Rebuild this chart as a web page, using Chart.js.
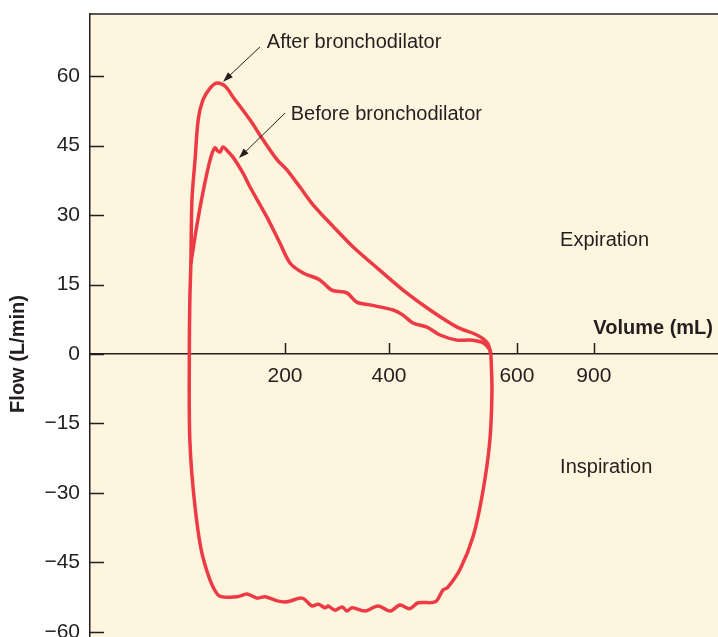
<!DOCTYPE html>
<html>
<head>
<meta charset="utf-8">
<script src="https://cdn.jsdelivr.net/npm/chart.js@4.4.1/dist/chart.umd.min.js"></script>
<style>
    html, body { margin: 0; padding: 0; background: #ffffff; overflow: hidden; }
    #myChart { display: block; }
</style>
</head>
<body>
<canvas id="myChart" width="718" height="694"></canvas>
<script>
// Flow-volume loop, after bronchodilator (volume in mL, flow in L/min)
var afterVolume = [596, 598, 594, 581, 562, 537, 512, 504, 489, 456, 440, 421, 402, 379, 354, 329, 319, 310, 296, 283,
    277, 264, 252, 233, 204, 185, 162, 146, 127, 108, 71, 42, 27, 17, 16, 17, 19, 21, 27, 33,
    42, 56, 69, 85, 100, 133, 158, 185, 204, 229, 254, 292, 331, 377, 427, 479, 531, 569, 589, 596];
var afterFlow = [0, -7.8, -18.6, -29.4, -39.3, -46.4, -50.5, -50.9, -53.5, -53.7, -55.0, -54.2, -55.5, -54.4, -55.5, -54.8, -55.5, -54.6, -55.3, -54.4,
    -54.8, -54.0, -54.4, -52.7, -53.5, -53.3, -52.4, -52.7, -51.8, -52.4, -52.0, -43.8, -33.0, -18.6, 0, 11.7, 19.6, 33.2, 41.9, 50.5,
    54.8, 57.4, 58.5, 57.8, 55.5, 50.5, 46.2, 41.9, 39.7, 36.0, 32.2, 27.6, 23.1, 18.6, 13.8, 9.5, 5.8, 4.1, 2.4, 0];

// Expiration limb before bronchodilator
var beforeVolume = [19, 30, 42, 56, 65, 71, 75, 81, 88, 100, 119, 133, 165, 190, 210, 235, 267, 290, 319, 338,
    363, 408, 427, 446, 473, 498, 531, 556, 581, 594, 596];
var beforeFlow = [19.6, 27.4, 34.8, 41.9, 44.5, 43.8, 43.6, 44.7, 44.0, 42.5, 39.1, 36.0, 29.6, 24.0, 19.6, 17.5, 16.0, 13.8, 13.2, 11.2,
    10.6, 9.5, 8.4, 6.7, 5.8, 4.1, 3.0, 3.0, 2.4, 0.9, 0];

// Axis ticks (the printed volume axis is not evenly spaced)
var xTickValues = [200, 400, 646, 794];
var xTickLabels = ['200', '400', '600', '900'];
var yTickValues = [60, 45, 30, 15, 0, -15, -30, -45, -60];

var inkColor = '#231f20';
var curveColor = '#ee3a45';
var fontFamily = '"Liberation Sans", Arial, sans-serif';

// Text labels and arrows, placed in data units
var notes = [
    { text: 'After bronchodilator', x: 165, y: 67.3, align: 'left', bold: false },
    { text: 'Before bronchodilator', x: 211, y: 51.8, align: 'left', bold: false },
    { text: 'Expiration', x: 729, y: 24.6, align: 'left', bold: false },
    { text: 'Inspiration', x: 729, y: -24.4, align: 'left', bold: false },
    { text: 'Volume (mL)', x: 1023, y: 5.6, align: 'right', bold: true }
];
var arrows = [
    { x1: 152, y1: 66.3, x2: 81, y2: 58.8 },
    { x1: 200, y1: 52.0, x2: 111.5, y2: 42.3 }
];

function toPoints(xs, ys) {
    return xs.map((x, i) => ({ x: x, y: ys[i] }));
}

// Cream plot background and the top frame line
const backgroundPlugin = {
    id: 'plotBackground',
    beforeDraw(chart) {
        const ctx = chart.ctx;
        const a = chart.chartArea;
        ctx.save();
        ctx.fillStyle = '#fdf5de';
        ctx.fillRect(a.left, a.top, a.right - a.left, a.bottom - a.top);
        ctx.strokeStyle = inkColor;
        ctx.lineWidth = 1.5;
        ctx.beginPath();
        ctx.moveTo(a.left - 0.75, a.top);
        ctx.lineTo(a.right, a.top);
        ctx.stroke();
        ctx.restore();
    }
};

// Inward tick marks, annotations and arrows
const extrasPlugin = {
    id: 'extras',
    afterDraw(chart) {
        const ctx = chart.ctx;
        const xs = chart.scales.x;
        const ys = chart.scales.y;
        const a = chart.chartArea;
        const zeroY = ys.getPixelForValue(0);
        ctx.save();
        ctx.strokeStyle = inkColor;
        ctx.lineWidth = 1.5;
        ctx.beginPath();
        yTickValues.forEach(v => {
            const py = Math.round(ys.getPixelForValue(v)) + 0.5;
            ctx.moveTo(a.left, py);
            ctx.lineTo(a.left + 14, py);
        });
        xTickValues.forEach(v => {
            const px = Math.round(xs.getPixelForValue(v)) + 0.5;
            ctx.moveTo(px, zeroY);
            ctx.lineTo(px, zeroY - 11);
        });
        ctx.stroke();

        ctx.fillStyle = inkColor;
        ctx.textBaseline = 'middle';
        notes.forEach(n => {
            ctx.font = (n.bold ? 'bold ' : '') + '20px ' + fontFamily;
            ctx.textAlign = n.align;
            ctx.fillText(n.text, xs.getPixelForValue(n.x), ys.getPixelForValue(n.y));
        });

        ctx.lineWidth = 1;
        arrows.forEach(ar => {
            const x1 = xs.getPixelForValue(ar.x1), y1 = ys.getPixelForValue(ar.y1);
            const x2 = xs.getPixelForValue(ar.x2), y2 = ys.getPixelForValue(ar.y2);
            const ang = Math.atan2(y2 - y1, x2 - x1);
            ctx.beginPath();
            ctx.moveTo(x1, y1);
            ctx.lineTo(x2 - 6 * Math.cos(ang), y2 - 6 * Math.sin(ang));
            ctx.stroke();
            ctx.beginPath();
            ctx.moveTo(x2, y2);
            ctx.lineTo(x2 - 10 * Math.cos(ang) + 3.5 * Math.sin(ang), y2 - 10 * Math.sin(ang) - 3.5 * Math.cos(ang));
            ctx.lineTo(x2 - 10 * Math.cos(ang) - 3.5 * Math.sin(ang), y2 - 10 * Math.sin(ang) + 3.5 * Math.cos(ang));
            ctx.closePath();
            ctx.fill();
        });
        ctx.restore();
    }
};

const lineStyle = {
    showLine: true,
    borderColor: curveColor,
    borderWidth: 3.5,
    pointRadius: 0,
    tension: 0.3,
    fill: false
};

new Chart('myChart', {
    type: 'scatter',
    data: {
        datasets: [
            Object.assign({ label: 'After bronchodilator', data: toPoints(afterVolume, afterFlow) }, lineStyle),
            Object.assign({ label: 'Before bronchodilator', data: toPoints(beforeVolume, beforeFlow) }, lineStyle)
        ]
    },
    options: {
        responsive: false,
        animation: false,
        devicePixelRatio: 1,
        layout: { padding: { top: 14, left: 0, right: 0, bottom: 0 } },
        plugins: {
            legend: { display: false },
            tooltip: { enabled: false }
        },
        scales: {
            x: {
                type: 'linear',
                position: { y: 0 },
                min: -175,
                max: 1032.7,
                grid: { display: false, drawTicks: false },
                border: { display: true, color: inkColor, width: 1.5 },
                afterBuildTicks: scale => {
                    scale.ticks = xTickValues.map(v => ({ value: v }));
                },
                afterFit: scale => {
                    scale.paddingLeft = 0;
                    scale.paddingRight = 0;
                },
                ticks: {
                    autoSkip: false,
                    maxRotation: 0,
                    padding: 10,
                    color: inkColor,
                    font: { family: fontFamily, size: 21 },
                    callback: (value, index) => xTickLabels[index]
                }
            },
            y: {
                type: 'linear',
                position: 'left',
                min: -73.4,
                max: 73.4,
                grid: { display: false, drawTicks: false },
                border: { display: true, color: inkColor, width: 1.5 },
                afterBuildTicks: scale => {
                    scale.ticks = yTickValues.map(v => ({ value: v }));
                },
                afterFit: scale => {
                    scale.width = 90;
                    scale.paddingTop = 0;
                    scale.paddingBottom = 0;
                },
                ticks: {
                    autoSkip: false,
                    padding: 10,
                    color: inkColor,
                    font: { family: fontFamily, size: 21 },
                    callback: value => value < 0 ? '\u2212' + Math.abs(value) : String(value)
                },
                title: {
                    display: true,
                    text: 'Flow (L/min)',
                    color: inkColor,
                    padding: { top: 6, bottom: 0 },
                    font: { family: fontFamily, size: 20, weight: 'bold' }
                }
            }
        }
    },
    plugins: [backgroundPlugin, extrasPlugin]
});
</script>
</body>
</html>
